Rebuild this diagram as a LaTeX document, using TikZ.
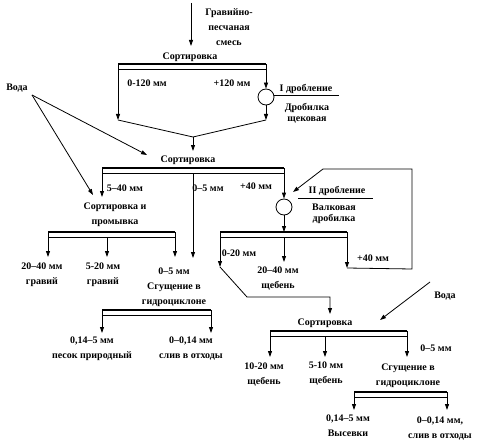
\documentclass[tikz,border=0pt]{standalone}
\usepackage{fontspec}
\setmainfont{Liberation Serif}
\usetikzlibrary{arrows.meta}
\newcommand\sortbar[4]{% name, x1, x2, y
  \draw[line width=0.6pt] (#2,#4) rectangle (#3,#4+5);
  \draw[line width=1.8pt] (#2,#4) -- (#3,#4);
  \coordinate (#1L) at (#2,#4+5);
  \coordinate (#1R) at (#3,#4+5);
  \coordinate (#1T) at (#3,#4);}
\begin{document}
\begin{tikzpicture}[x=1pt,y=-1pt,
  line width=0.8pt,
  arr/.style={-{Triangle[length=6pt,width=4pt]}},
  lbl/.style={font=\fontsize{10}{15}\selectfont\bfseries, inner sep=0pt, align=center},
  crusher/.style={circle, draw, line width=0.8pt, minimum size=16pt, inner sep=0pt}]
\useasboundingbox (0,0) rectangle (484,441);

% ---- top: feed and first sorting
\coordinate (feedA) at (191,3);
\coordinate (feedB) at (191,46);
\node[lbl] (feed) at (229,27) {Гравийно-\\песчаная\\смесь};
\draw[arr] (feedA) -- (feedB);
\node[lbl] (s1) at (190,57) {Сортировка};
\sortbar{b1}{118}{266}{64}
\node[lbl] (l0120) at (147,83) {0-120 мм};
\node[lbl] (l120) at (232,83) {+120 мм};
\node[crusher] (c1) at (266,97) {};
\draw[arr] (b1R) -- (c1.north);
\node[lbl] (d1a) at (306,89) {I дробление};
\draw (c1.east) ++(0,-2) -- ++(65,0);
\node[lbl] (d1b) at (307,108) {Дробилка};
\node[lbl] (d1c) at (307,120) {щековая};
\coordinate (v1) at (118,120);
\coordinate (v2) at (266,120);
\coordinate (v0) at (193,137);
\coordinate (v3) at (193,151);
\draw[arr] (b1L) -- (v1);
\draw[arr] (c1.south) -- (v2);
\draw (v1) -- (v0) -- (v2);
\draw[arr] (v0) -- (v3);

% ---- water (left)
\node[lbl] (w1) at (17,88) {Вода};
\coordinate (w1o) at (32,95);
\coordinate (w1a) at (147,155);
\coordinate (w1b) at (93,195);
\draw[arr] (w1o) -- (w1a);
\draw[arr] (w1o) -- (w1b);

% ---- second sorting
\node[lbl] (s2) at (188,160) {Сортировка};
\sortbar{b2}{102}{284}{168}
\coordinate (b2M) at (193,173);
\coordinate (a540) at (102,197);
\coordinate (a05) at (193,258);
\node[lbl] (l540) at (125,188) {5–40 мм};
\node[lbl] (l05a) at (208,188) {0–5 мм};
\node[lbl] (l40a) at (256,186) {+40 мм};
\draw[arr] (b2L) -- (a540);
\draw[arr] (b2M) -- (a05);
\node[crusher] (c2) at (284,207) {};
\draw[arr] (b2R) -- (c2.north);

% ---- sorting and washing (left)
\node[lbl] (sp) at (115,215) {Сортировка и\\промывка};
\sortbar{b3}{48}{175}{232}
\coordinate (b3M) at (107,237);
\coordinate (g1) at (48,257);
\coordinate (g2) at (107,257);
\coordinate (g3) at (175,257);
\draw[arr] (b3L) -- (g1);
\draw[arr] (b3M) -- (g2);
\draw[arr] (b3R) -- (g3);
\node[lbl] (gr1) at (42,275) {20–40 мм\\гравий};
\node[lbl] (gr2) at (103,275) {5-20 мм\\гравий};
\node[lbl] (hc1) at (174,287) {0–5 мм\\Сгущение в\\гидроциклоне};
\sortbar{b4}{102}{211}{310}
\coordinate (h1) at (102,333);
\coordinate (h2) at (211,333);
\draw[arr] (b4L) -- (h1);
\draw[arr] (b4R) -- (h2);
\node[lbl] (sand) at (92,349) {0,14–5 мм\\песок природный};
\node[lbl] (waste1) at (191,349) {0–0,14 мм\\слив в отходы};

% ---- second crushing
\node[lbl] (d2a) at (337,191) {II дробление};
\coordinate (u2a) at (298,198);
\coordinate (u2b) at (373,198);
\draw (u2a) -- (u2b);
\node[lbl] (d2b) at (334,207) {Валковая};
\node[lbl] (d2c) at (334,219) {дробилка};
\coordinate (b5top) at (284,232);
\draw[arr] (c2.south) -- (b5top);
\sortbar{b5}{220}{347}{232}
\coordinate (b5M) at (284,237);
\coordinate (r1) at (220,267);
\coordinate (r2) at (284,262);
\coordinate (r3) at (347,268);
\draw[arr] (b5L) -- (r1);
\draw[arr] (b5M) -- (r2);
\draw[arr] (b5R) -- (r3);
\node[lbl] (l020) at (239,253) {0-20 мм};
\node[lbl] (sh1) at (278,279) {20–40 мм\\щебень};
\node[lbl] (l40b) at (373,258) {+40 мм};
% recycle loop
\coordinate (lp1) at (412,269);
\coordinate (lp2) at (412,169);
\coordinate (lp3) at (323,169);
\coordinate (lp4) at (293,192);
\draw[arr] (r3) -- (lp1) -- (lp2) -- (lp3) -- (lp4);
% 0-20 to third sorting
\coordinate (k1) at (247,297);
\coordinate (k2) at (330,297);
\coordinate (k3) at (330,314);
\draw[arr] (r1) -- (k1) -- (k2) -- (k3);

% ---- water (right)
\node[lbl] (w2) at (445,296) {Вода};
\coordinate (w2o) at (430,282);
\coordinate (w2a) at (380,320);
\draw[arr] (w2o) -- (w2a);

% ---- third sorting
\node[lbl] (s3) at (325,323) {Сортировка};
\sortbar{b6}{270}{407}{331}
\coordinate (b6M) at (325,336);
\coordinate (t1) at (270,357);
\coordinate (t2) at (325,357);
\coordinate (t3) at (407,357);
\draw[arr] (b6L) -- (t1);
\draw[arr] (b6M) -- (t2);
\draw[arr] (b6R) -- (t3);
\node[lbl] (l05b) at (436,348) {0–5 мм};
\node[lbl] (sh2) at (264,375) {10-20 мм\\щебень};
\node[lbl] (sh3) at (326,374) {5-10 мм\\щебень};
\node[lbl] (hc2) at (408,376) {Сгущение в\\гидроциклоне};
\sortbar{b7}{354}{447}{392}
\coordinate (e1) at (354,410);
\coordinate (e2) at (447,410);
\draw[arr] (b7L) -- (e1);
\draw[arr] (b7R) -- (e2);
\node[lbl] (vys) at (348,426) {0,14–5 мм\\Высевки};
\node[lbl] (waste2) at (440,429) {0–0,14 мм,\\слив в отходы};
\end{tikzpicture}
\end{document}
